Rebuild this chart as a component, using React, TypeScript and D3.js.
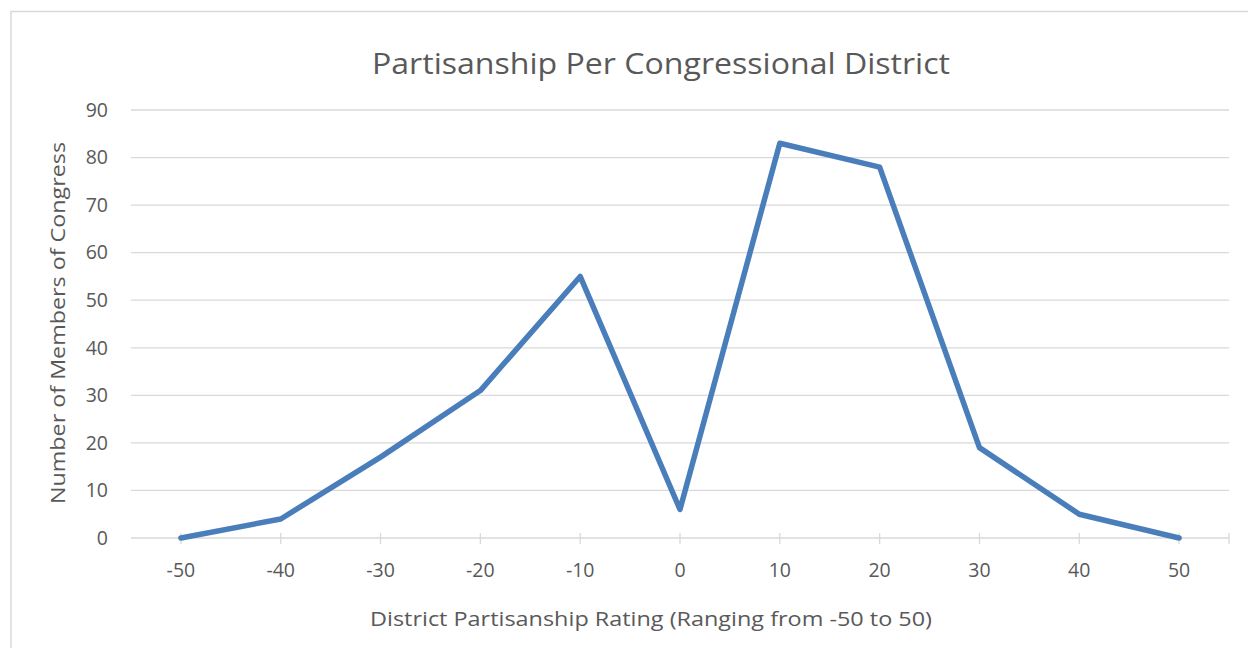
import React from "react";
import * as d3 from "d3";

const categories = [-50, -40, -30, -20, -10, 0, 10, 20, 30, 40, 50];
const members = [0, 4, 17, 31, 55, 6, 83, 78, 19, 5, 0];
const yTicks = [0, 10, 20, 30, 40, 50, 60, 70, 80, 90];

const W = 1248;
const H = 648;
const plot = { left: 131, right: 1229, top: 110, bottom: 538 };
const FONT = "'Open Sans', 'Noto Sans', sans-serif";
const TEXT = "#595959";

export default function App() {
  const x = d3
    .scaleBand<number>()
    .domain(categories)
    .range([plot.left, plot.right])
    .paddingInner(0)
    .paddingOuter(0);
  const cx = (c: number) => (x(c) as number) + x.bandwidth() / 2;
  const y = d3.scaleLinear().domain([0, 90]).range([plot.bottom, plot.top]);
  const line = d3
    .line<number>()
    .x((_, i) => cx(categories[i]))
    .y((d) => y(d));

  return (
    <svg
      width={W}
      height={H}
      style={{ position: "absolute", left: 0, top: 0, background: "#fff" }}
      fontFamily={FONT}
    >
      <rect x={11} y={11.5} width={W + 20} height={H + 20} fill="#fff" stroke="#d9d9d9" strokeWidth={1.5} />
      <text x={661} y={74} textAnchor="middle" fontSize={30} fill={TEXT} textLength={578} lengthAdjust="spacingAndGlyphs">
        Partisanship Per Congressional District
      </text>
      {yTicks.map((t) => (
        <g key={t}>
          <line x1={plot.left} x2={plot.right} y1={y(t)} y2={y(t)} stroke="#d9d9d9" strokeWidth={1.3} />
          <text x={108} y={y(t)} dy="0.35em" textAnchor="end" fontSize={19.5} fill={TEXT}>
            {t}
          </text>
        </g>
      ))}
      {categories.map((c) => (
        <g key={c}>
          <line x1={cx(c)} x2={cx(c)} y1={plot.bottom - 5} y2={plot.bottom + 6} stroke="#d9d9d9" strokeWidth={1.3} />
          <text x={cx(c)} y={570} dy="0.35em" textAnchor="middle" fontSize={19.5} fill={TEXT}>
            {c}
          </text>
        </g>
      ))}
      <line x1={plot.right} x2={plot.right} y1={plot.bottom - 5} y2={plot.bottom + 6} stroke="#d9d9d9" strokeWidth={1.3} />
      <path d={line(members) ?? ""} fill="none" stroke="#4a7ebb" strokeWidth={5.5} strokeLinejoin="round" strokeLinecap="round" />
      <text x={651} y={619} dy="0.35em" textAnchor="middle" fontSize={20.5} fill={TEXT} textLength={562} lengthAdjust="spacingAndGlyphs">
        District Partisanship Rating (Ranging from -50 to 50)
      </text>
      <text
        transform={`translate(58, 323) rotate(-90)`}
        dy="0.35em"
        textAnchor="middle"
        fontSize={20.5}
        fill={TEXT}
        textLength={362}
        lengthAdjust="spacingAndGlyphs"
      >
        Number of Members of Congress
      </text>
    </svg>
  );
}
